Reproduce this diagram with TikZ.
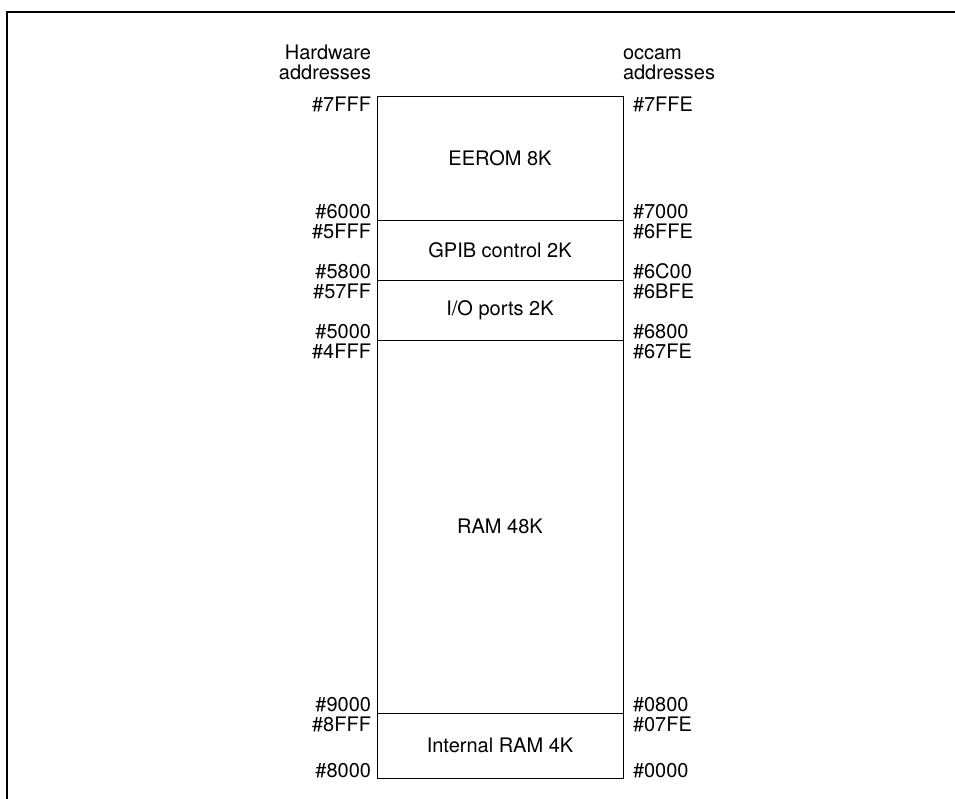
\documentclass[tikz,border=0pt]{standalone}
\usepackage{fontspec}
\setmainfont{TeX Gyre Heros}
\usetikzlibrary{positioning}

\begin{document}
\begin{tikzpicture}[
  x=0.5pt, y=-0.5pt,
  font=\fontsize{10}{10}\selectfont,
  node distance=0pt,
  region/.style={
    draw, line width=0.5pt, outer sep=0pt, inner sep=0pt,
    minimum width=123pt
  },
  addr/.style={inner sep=0pt, outer sep=0pt},
  head/.style={addr, align=left},
  frame/.style={line width=0.9pt}
]
\useasboundingbox (0,0) rectangle (955,799);
\draw[frame] (7,799) -- (7,12) -- (955,12);

\node[region, minimum height=62pt, anchor=north] (eerom) at (500,96) {EEROM 8K};
\node[region, minimum height=30pt, below=of eerom] (gpib) {GPIB control 2K};
\node[region, minimum height=30pt, below=of gpib] (io) {I/O ports 2K};
\node[region, minimum height=186.5pt, below=of io] (ram) {RAM 48K};
\node[region, minimum height=32.5pt, below=of ram] (iram) {Internal RAM 4K};

\node[head, align=right, anchor=south east] (hwhead) at ([xshift=-3pt,yshift=8pt]eerom.north west) {Hardware\\addresses};
\node[head, anchor=south west] (ochead) at ([yshift=8pt]eerom.north east) {occam\\addresses};

\node[addr, anchor=north east] (hw7FFF) at ([xshift=-3pt,yshift=-0.5pt]eerom.north west) {\#7FFF};
\node[addr, anchor=base east] (hw6000) at ([xshift=-3pt,yshift=1pt]eerom.south west) {\#6000};
\node[addr, anchor=north east] (hw5FFF) at ([xshift=-3pt,yshift=-2pt]gpib.north west) {\#5FFF};
\node[addr, anchor=base east] (hw5800) at ([xshift=-3pt,yshift=1pt]gpib.south west) {\#5800};
\node[addr, anchor=north east] (hw57FF) at ([xshift=-3pt,yshift=-2pt]io.north west) {\#57FF};
\node[addr, anchor=base east] (hw5000) at ([xshift=-3pt,yshift=1pt]io.south west) {\#5000};
\node[addr, anchor=north east] (hw4FFF) at ([xshift=-3pt,yshift=-2pt]ram.north west) {\#4FFF};
\node[addr, anchor=base east] (hw9000) at ([xshift=-3pt,yshift=1pt]ram.south west) {\#9000};
\node[addr, anchor=north east] (hw8FFF) at ([xshift=-3pt,yshift=-2pt]iram.north west) {\#8FFF};
\node[addr, anchor=base east] (hw8000) at ([xshift=-3pt,yshift=0.5pt]iram.south west) {\#8000};

\node[addr, anchor=north west] (oc7FFE) at ([xshift=5pt,yshift=-0.5pt]eerom.north east) {\#7FFE};
\node[addr, anchor=base west] (oc7000) at ([xshift=5pt,yshift=1pt]eerom.south east) {\#7000};
\node[addr, anchor=north west] (oc6FFE) at ([xshift=5pt,yshift=-2pt]gpib.north east) {\#6FFE};
\node[addr, anchor=base west] (oc6C00) at ([xshift=5pt,yshift=1pt]gpib.south east) {\#6C00};
\node[addr, anchor=north west] (oc6BFE) at ([xshift=5pt,yshift=-2pt]io.north east) {\#6BFE};
\node[addr, anchor=base west] (oc6800) at ([xshift=5pt,yshift=1pt]io.south east) {\#6800};
\node[addr, anchor=north west] (oc67FE) at ([xshift=5pt,yshift=-2pt]ram.north east) {\#67FE};
\node[addr, anchor=base west] (oc0800) at ([xshift=5pt,yshift=1pt]ram.south east) {\#0800};
\node[addr, anchor=north west] (oc07FE) at ([xshift=5pt,yshift=-2pt]iram.north east) {\#07FE};
\node[addr, anchor=base west] (oc0000) at ([xshift=5pt,yshift=0.5pt]iram.south east) {\#0000};
\end{tikzpicture}
\end{document}
